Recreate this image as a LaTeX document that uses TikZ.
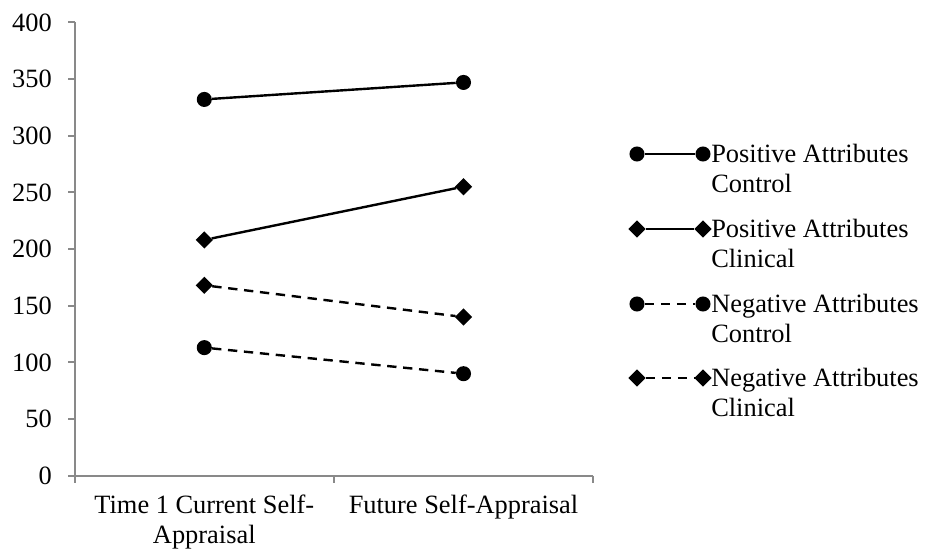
\documentclass[tikz,border=0pt]{standalone}
\usepackage{fontspec}
\setmainfont{Liberation Serif}
\usetikzlibrary{shapes.geometric}
\definecolor{axisgray}{RGB}{137,137,137}

\begin{document}
\begin{tikzpicture}[x=0.75pt,y=0.75pt,
  font=\fontsize{19.8}{22.5}\selectfont,
  axis/.style={axisgray,line width=1.4pt},
  dot/.style={circle,fill=black,inner sep=0pt,minimum size=11.3pt},
  gem/.style={diamond,fill=black,inner sep=0pt,minimum size=13pt},
  series/.style={line width=1.8pt},
  dashed series/.style={series,dash pattern=on 7pt off 5pt}]
\useasboundingbox (-74.7,-77.3) rectangle (851.3,475.7);

% Draw x-axis and its ticks
\draw[axis] (0,0) -- (518.4,0);
\foreach \x in {0,259.2,518.4}
  \draw[axis] (\x,0) -- (\x,-7.3);

% Category labels (base = last line)
\node[anchor=base,align=center,inner sep=0pt] (cat1) at (129.6,-68.3) {Time 1 Current Self-\\Appraisal};
\node[anchor=base,inner sep=0pt] (cat2) at (388.8,-38.3) {Future Self-Appraisal};

\begin{scope}[yscale=1.1333]
% Draw y-axis with ticks
\draw[axis] (0,0) -- (0,400);
\foreach \v in {0,50,...,400} {
  \draw[axis] (-6.4,\v) -- (0,\v);
  \node[anchor=east,inner sep=0pt] (tick\v) at (-22.7,\v) {\v};
}

% Positive attributes, control
\node[dot] (pc1) at (129.6,332) {};
\node[dot] (pc2) at (388.8,347) {};
\draw[series] (pc1) -- (pc2);

% Positive attributes, clinical
\node[gem] (pk1) at (129.6,208) {};
\node[gem] (pk2) at (388.8,255) {};
\draw[series] (pk1) -- (pk2);

% Negative attributes, control
\node[dot] (nc1) at (129.6,113) {};
\node[dot] (nc2) at (388.8,90) {};
\draw[dashed series] (nc1) -- (nc2);

% Negative attributes, clinical
\node[gem] (nk1) at (129.6,168) {};
\node[gem] (nk2) at (388.8,140) {};
\draw[dashed series] (nk1) -- (nk2);
\end{scope}

% Legend
\node[dot] (lpc1) at (562.3,321.7) {};
\node[dot] (lpc2) at (628.3,321.7) {};
\draw[series] (lpc1) -- (lpc2);
\node[anchor=base west,align=left,inner sep=0pt] (lpc) at (636.3,282.7) {Positive Attributes\\Control};

\node[gem] (lpk1) at (562.3,246.7) {};
\node[gem] (lpk2) at (628.3,246.7) {};
\draw[series] (lpk1) -- (lpk2);
\node[anchor=base west,align=left,inner sep=0pt] (lpk) at (636.3,207.7) {Positive Attributes\\Clinical};

\node[dot] (lnc1) at (562.3,171.7) {};
\node[dot] (lnc2) at (628.3,171.7) {};
\draw[dashed series] (lnc1) -- (lnc2);
\node[anchor=base west,align=left,inner sep=0pt] (lnc) at (636.3,132.7) {Negative Attributes\\Control};

\node[gem] (lnk1) at (562.3,97.7) {};
\node[gem] (lnk2) at (628.3,97.7) {};
\draw[dashed series] (lnk1) -- (lnk2);
\node[anchor=base west,align=left,inner sep=0pt] (lnk) at (636.3,58.7) {Negative Attributes\\Clinical};
\end{tikzpicture}
\end{document}
